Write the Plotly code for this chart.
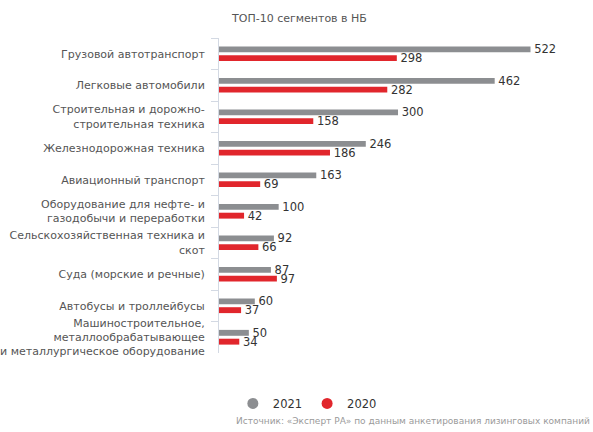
import plotly.graph_objects as go

categories = [
    "Грузовой автотранспорт",
    "Легковые автомобили",
    "Строительная и дорожно-<br>строительная техника",
    "Железнодорожная техника",
    "Авиационный транспорт",
    "Оборудование для нефте- и<br>газодобычи и переработки",
    "Сельскохозяйственная техника и<br>скот",
    "Суда (морские и речные)",
    "Автобусы и троллейбусы",
    "Машиностроительное,<br>металлообрабатывающее<br>и металлургическое оборудование",
]
values_2021 = [522, 462, 300, 246, 163, 100, 92, 87, 60, 50]
values_2020 = [298, 282, 158, 186, 69, 42, 66, 97, 37, 34]

GRAY = "#8c8e91"
RED = "#e1262c"
FONT = "DejaVu Sans"

fig = go.Figure()
for name, vals, color in (("2021", values_2021, GRAY), ("2020", values_2020, RED)):
    fig.add_trace(go.Bar(
        y=categories, x=vals, orientation="h", name=name,
        marker=dict(color=color, line=dict(width=0)),
        text=vals, texttemplate="\u00a0%{text}",
        textposition="outside", constraintext="none",
        textfont=dict(family=FONT, size=11.5, color="#333333"),
        cliponaxis=False, showlegend=False,
    ))

# circular legend markers
for name, color in (("2021", GRAY), ("2020", RED)):
    fig.add_trace(go.Scatter(
        x=[None], y=[None], mode="markers", name=name,
        marker=dict(color=color, size=11, symbol="circle"),
    ))

fig.update_layout(
    width=593, height=432,
    margin=dict(l=219, r=10, t=38, b=79),
    paper_bgcolor="white", plot_bgcolor="white",
    barmode="group", bargap=0.44, bargroupgap=0.33,
    font=dict(family=FONT, size=11, color="#555555"),
    title=dict(text="ТОП-10 сегментов в НБ", x=0.505, xanchor="center",
               y=0.958, yanchor="middle",
               font=dict(family=FONT, size=11, color="#555555")),
    xaxis=dict(range=[0, 610], visible=False, fixedrange=True,
               automargin=False),
    yaxis=dict(
        autorange="reversed", type="category", automargin=False,
        showline=True, linecolor="#d3d9e3", linewidth=1,
        ticks="outside", tickson="boundaries", ticklen=7,
        tickcolor="#d3d9e3", showgrid=False, zeroline=False,
        ticklabelstandoff=11,
        tickfont=dict(family=FONT, size=11, color="#555555"),
    ),
    legend=dict(
        orientation="h", x=0.038, xanchor="left", y=-0.16, yanchor="middle",
        font=dict(family=FONT, size=11.5, color="#333333"),
        itemwidth=30, tracegroupgap=0,
    ),
    showlegend=True,
    annotations=[dict(
        text="Источник: «Эксперт РА» по данным анкетирования лизинговых компаний",
        xref="paper", yref="paper", x=1.025, xanchor="right",
        y=-0.215, yanchor="middle", showarrow=False,
        font=dict(family=FONT, size=9, color="#9a9a9a"),
    )],
)

fig.write_html("out.html")
